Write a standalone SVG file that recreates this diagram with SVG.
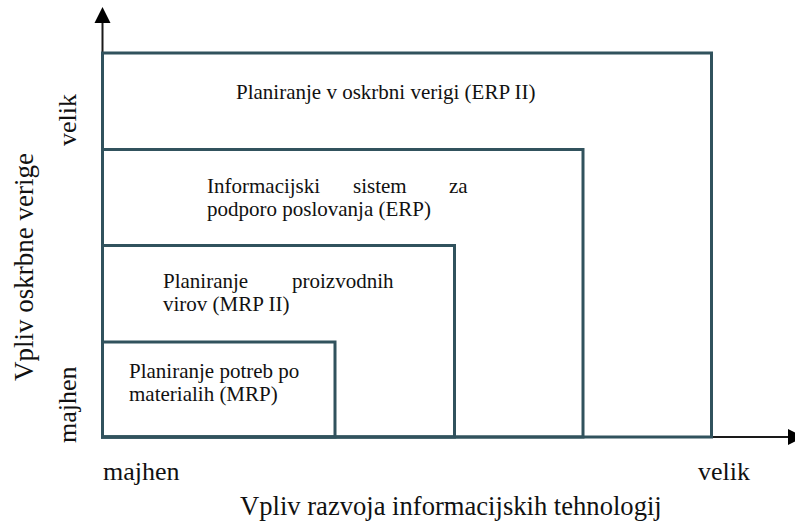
<svg xmlns="http://www.w3.org/2000/svg" width="795" height="522" viewBox="0 0 795 522">
  <style>
    .box { fill: none; stroke: #31525d; stroke-width: 3; }
    .axis { stroke: #1a1a1a; stroke-width: 2; fill: none; }
    .head { fill: #000; }
    .t { font-family: "Liberation Serif", "Times New Roman", serif; font-size: 21px; fill: #111; }
    .lab { font-family: "Liberation Serif", "Times New Roman", serif; font-size: 26px; fill: #111; }
    .big { font-size: 27px; }
    .wide { font-size: 26.6px; }
  </style>
  <rect width="795" height="522" fill="#fff"/>

  <!-- axes -->
  <g id="connectors">
    <line class="axis" x1="102.5" y1="437" x2="102.5" y2="22"/>
    <polygon class="head" points="102.5,7 94.5,23 110.5,23"/>
    <line class="axis" x1="102" y1="437" x2="790" y2="437"/>
    <polygon class="head" points="804,437 788,429 788,445"/>
  </g>

  <!-- nested layers, largest first -->
  <g id="erp2">
    <rect class="box" x="102.5" y="53" width="609" height="384"/>
    <text class="t" x="236" y="99">Planiranje v oskrbni verigi (ERP II)</text>
  </g>
  <g id="erp">
    <rect class="box" x="102.5" y="149.5" width="480.5" height="287.5"/>
    <text class="t" y="193"><tspan x="207">Informacijski</tspan><tspan x="353">sistem</tspan><tspan x="449">za</tspan></text>
    <text class="t" x="207" y="216">podporo poslovanja (ERP)</text>
  </g>
  <g id="mrp2">
    <rect class="box" x="102.5" y="245.5" width="352" height="191.5"/>
    <text class="t" y="288"><tspan x="163">Planiranje</tspan><tspan x="292">proizvodnih</tspan></text>
    <text class="t" x="163" y="311">virov (MRP II)</text>
  </g>
  <g id="mrp">
    <rect class="box" x="102.5" y="342" width="232.5" height="95"/>
    <text class="t" x="129" y="378">Planiranje potreb po</text>
    <text class="t" x="129" y="401">materialih (MRP)</text>
  </g>

  <!-- axis labels -->
  <g id="x-labels">
    <text class="lab" x="103" y="480">majhen</text>
    <text class="lab" x="698" y="480">velik</text>
    <text class="lab wide" x="240" y="515">Vpliv razvoja informacijskih tehnologij</text>
  </g>
  <g id="y-labels">
    <text class="lab" transform="translate(76,443) rotate(-90)">majhen</text>
    <text class="lab" transform="translate(76,146) rotate(-90)">velik</text>
    <text class="lab big" transform="translate(33,381) rotate(-90)">Vpliv oskrbne verige</text>
  </g>
</svg>
